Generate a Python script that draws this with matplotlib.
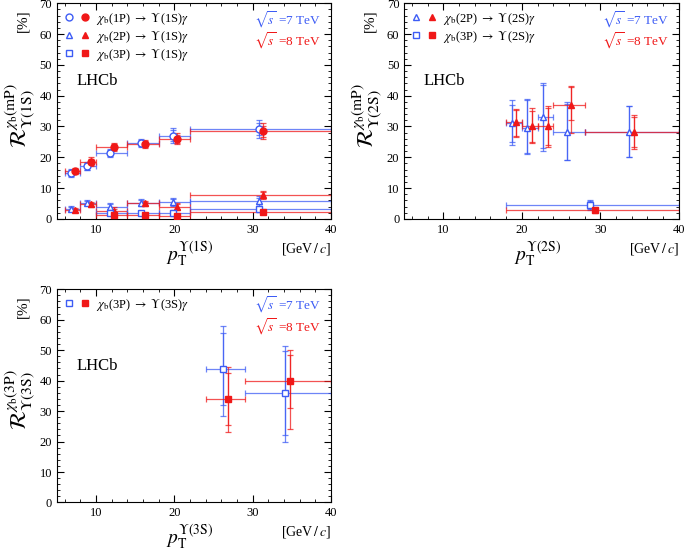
import numpy as np
import matplotlib.pyplot as plt
from matplotlib.lines import Line2D
from matplotlib.legend_handler import HandlerTuple
from matplotlib.ticker import MultipleLocator

plt.rcParams['font.family'] = ['Liberation Serif', 'DejaVu Serif']
plt.rcParams['mathtext.fontset'] = 'stix'

BLUE = '#3d5cf5'
RED = '#f01818'

# ---- panel 1: Upsilon(1S) ----
p1_x7 = [6.8, 8.8, 11.8, 15.8, 19.8, 30.8]
p1_x8 = [7.3, 9.3, 12.3, 16.3, 20.3, 31.3]
p1_lo = [6, 8, 10, 14, 18, 22]
p1_hi = [8, 10, 14, 18, 22, 40]

r1p_7 = [15.0, 17.0, 21.3, 24.5, 27.0, 29.2]
r1p_7_stat = [1.0, 1.0, 1.0, 1.0, 1.8, 2.0]
r1p_7_tot = [1.3, 1.3, 1.3, 1.3, 2.5, 2.8]
r1p_8 = [15.5, 18.5, 23.3, 24.2, 26.0, 28.5]
r1p_8_stat = [0.8, 1.0, 1.0, 1.0, 1.3, 1.8]
r1p_8_tot = [1.0, 1.5, 1.3, 1.3, 1.8, 2.5]

r2p_7 = [3.3, 5.3, 4.0, 5.3, 5.5, 5.8]
r2p_7_stat = [0.5, 0.5, 0.8, 0.7, 1.0, 1.0]
r2p_7_tot = [0.8, 0.8, 1.0, 1.0, 1.3, 1.5]
r2p_8 = [2.8, 4.8, 2.5, 5.0, 4.0, 7.7]
r2p_8_stat = [0.5, 0.5, 0.8, 0.6, 0.8, 1.0]
r2p_8_tot = [0.7, 0.8, 1.2, 0.8, 1.0, 1.3]

r3p_7 = [1.8, 2.0, 2.0, 3.2]
r3p_7_stat = [0.4, 0.5, 0.6, 0.8]
r3p_7_tot = [0.6, 0.7, 0.8, 1.0]
r3p_8 = [1.3, 1.2, 1.0, 2.2]
r3p_8_stat = [0.5, 0.4, 0.4, 0.5]
r3p_8_tot = [0.7, 0.6, 0.6, 0.7]

# ---- panel 2: Upsilon(2S) ----
p2_x7 = [18.7, 20.7, 22.7, 25.7, 33.7]
p2_x8 = [19.3, 21.3, 23.3, 26.3, 34.3]
p2_lo = [18, 20, 22, 24, 28]
p2_hi = [20, 22, 24, 28, 40]
s2p_7 = [31.0, 29.5, 33.0, 28.2, 28.2]
s2p_7_stat = ([6.0, 8.0, 10.0, 9.0, 8.0], [6.0, 9.0, 10.5, 9.2, 8.3])
s2p_7_tot = ([7.0, 8.5, 11.0, 9.2, 8.0], [7.5, 9.3, 11.0, 9.6, 8.6])
s2p_8 = [31.5, 30.0, 30.0, 37.0, 28.2]
s2p_8_stat = ([4.5, 5.0, 6.0, 5.0, 5.0], [4.0, 5.0, 6.0, 5.8, 5.0])
s2p_8_tot = ([5.0, 5.5, 6.7, 9.2, 5.4], [4.3, 6.0, 6.5, 6.3, 5.6])
s3p_7 = [4.5]
s3p_8 = [2.8]

# ---- panel 3: Upsilon(3S) ----
p3_x7 = [26.2, 34.2]
p3_x8 = [26.8, 34.8]
p3_lo = [24, 29]
p3_hi = [29, 40]
t3p_7 = [43.7, 36.0]
t3p_7_stat = ([11.7, 14.0], [11.8, 13.8])
t3p_7_tot = ([15.2, 16.0], [14.3, 15.5])
t3p_8 = [34.0, 40.0]
t3p_8_stat = ([8.5, 9.0], [8.5, 8.5])
t3p_8_tot = ([11.0, 16.0], [10.5, 10.0])


def draw(ax, x, lo, hi, y, stat, tot, color, marker, filled):
    x = np.asarray(x)
    xerr = [x - np.asarray(lo), np.asarray(hi) - x]
    ax.errorbar(x, y, xerr=xerr, yerr=tot, fmt='none', ecolor=color,
                elinewidth=0.9, capsize=2.5, capthick=0.9, alpha=0.75, zorder=2)
    ax.errorbar(x, y, yerr=stat, fmt='none', ecolor=color,
                elinewidth=0.9, capsize=2.5, capthick=0.9, alpha=0.75, zorder=2)
    ax.plot(x, y, ls='none', marker=marker, ms=5, mec=color, mew=1.0,
            mfc=color if filled else 'white', zorder=3)


def style(ax, sub):
    ax.set_xlim(5, 40)
    ax.set_ylim(0, 70)
    ax.xaxis.set_major_locator(MultipleLocator(10))
    ax.xaxis.set_minor_locator(MultipleLocator(2))
    ax.yaxis.set_major_locator(MultipleLocator(10))
    ax.yaxis.set_minor_locator(MultipleLocator(2))
    ax.tick_params(which='both', direction='in', top=True, right=True, labelsize=9)
    ax.tick_params(which='major', length=5)
    ax.tick_params(which='minor', length=2.5)
    ax.text(-0.125, 0.92, '[%]', transform=ax.transAxes, rotation=90,
            ha='center', va='center', fontsize=11)
    ax.text(-0.135, 0.48,
            r'$\mathcal{R}^{\chi_{\rm b}\mathrm{(%s)}}_{\mathrm{\Upsilon(%s)}}$' % sub,
            transform=ax.transAxes, rotation=90, ha='center', va='center', fontsize=16)
    ax.text(0.485, -0.165, r'$p_{\rm T}^{\mathrm{\Upsilon(%s)}}$' % sub[1],
            transform=ax.transAxes, ha='center', va='center', fontsize=14)
    ax.text(1.0, -0.14, r'[GeV$\,/\,c$]', transform=ax.transAxes,
            ha='right', va='center', fontsize=10)
    ax.text(0.07, 0.64, 'LHCb', transform=ax.transAxes, ha='left', va='center', fontsize=12)
    ax.text(0.72, 0.925, r'$\sqrt{s}$ =7 TeV', transform=ax.transAxes, color=BLUE,
            ha='left', va='center', fontsize=9.5)
    ax.text(0.72, 0.825, r'$\sqrt{s}$ =8 TeV', transform=ax.transAxes, color=RED,
            ha='left', va='center', fontsize=9.5)


def pair(marker):
    return (Line2D([], [], ls='none', marker=marker, ms=5, mec=BLUE, mfc='white'),
            Line2D([], [], ls='none', marker=marker, ms=5, mec=RED, mfc=RED))


def legend(ax, handles, labels):
    ax.legend(handles, labels, loc='upper left', frameon=False, fontsize=9,
              handler_map={tuple: HandlerTuple(ndivide=None, pad=0.6)},
              handlelength=2.0, handletextpad=0.5, labelspacing=0.15,
              borderaxespad=0.2)


fig = plt.figure(figsize=(6.85, 5.54), dpi=100)
ax1 = fig.add_axes([0.083, 0.605, 0.400, 0.389])
ax2 = fig.add_axes([0.590, 0.605, 0.401, 0.389])
ax3 = fig.add_axes([0.083, 0.093, 0.400, 0.385])

# panel 1
draw(ax1, p1_x7, p1_lo, p1_hi, r1p_7, r1p_7_stat, r1p_7_tot, BLUE, 'o', False)
draw(ax1, p1_x8, p1_lo, p1_hi, r1p_8, r1p_8_stat, r1p_8_tot, RED, 'o', True)
draw(ax1, p1_x7, p1_lo, p1_hi, r2p_7, r2p_7_stat, r2p_7_tot, BLUE, '^', False)
draw(ax1, p1_x8, p1_lo, p1_hi, r2p_8, r2p_8_stat, r2p_8_tot, RED, '^', True)
draw(ax1, p1_x7[2:], p1_lo[2:], p1_hi[2:], r3p_7, r3p_7_stat, r3p_7_tot, BLUE, 's', False)
draw(ax1, p1_x8[2:], p1_lo[2:], p1_hi[2:], r3p_8, r3p_8_stat, r3p_8_tot, RED, 's', True)
style(ax1, ('mP', '1S'))
legend(ax1, [pair('o'), pair('^'), pair('s')],
       [r'$\chi_{\rm b}$(1P) $\rightarrow$ $\Upsilon$(1S)$\gamma$',
        r'$\chi_{\rm b}$(2P) $\rightarrow$ $\Upsilon$(1S)$\gamma$',
        r'$\chi_{\rm b}$(3P) $\rightarrow$ $\Upsilon$(1S)$\gamma$'])

# panel 2
draw(ax2, p2_x7, p2_lo, p2_hi, s2p_7, s2p_7_stat, s2p_7_tot, BLUE, '^', False)
draw(ax2, p2_x8, p2_lo, p2_hi, s2p_8, s2p_8_stat, s2p_8_tot, RED, '^', True)
draw(ax2, [28.7], [18], [40], s3p_7, [1.2], [1.5], BLUE, 's', False)
draw(ax2, [29.3], [18], [40], s3p_8, [0.6], [0.8], RED, 's', True)
style(ax2, ('mP', '2S'))
legend(ax2, [pair('^'), pair('s')],
       [r'$\chi_{\rm b}$(2P) $\rightarrow$ $\Upsilon$(2S)$\gamma$',
        r'$\chi_{\rm b}$(3P) $\rightarrow$ $\Upsilon$(2S)$\gamma$'])

# panel 3
draw(ax3, p3_x7, p3_lo, p3_hi, t3p_7, t3p_7_stat, t3p_7_tot, BLUE, 's', False)
draw(ax3, p3_x8, p3_lo, p3_hi, t3p_8, t3p_8_stat, t3p_8_tot, RED, 's', True)
style(ax3, ('3P', '3S'))
legend(ax3, [pair('s')],
       [r'$\chi_{\rm b}$(3P) $\rightarrow$ $\Upsilon$(3S)$\gamma$'])

fig.savefig('out.png', dpi=100)
